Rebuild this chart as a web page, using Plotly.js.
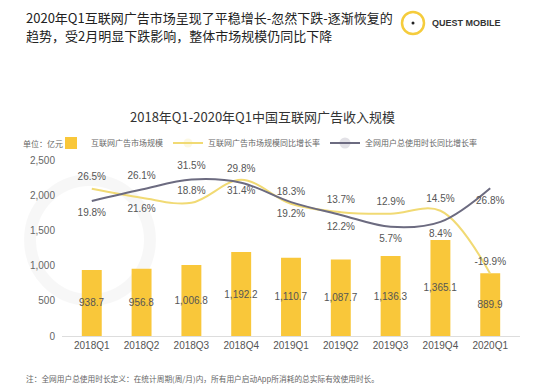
<!DOCTYPE html>
<html><head><meta charset="utf-8">
<script src="https://cdn.plot.ly/plotly-3.0.1.min.js"></script>
<style>html,body{margin:0;padding:0;background:#fff;}#chart{width:552px;height:385px;}</style>
</head><body><div id="chart"></div>
<script>
const quarters = ['2018Q1','2018Q2','2018Q3','2018Q4','2019Q1','2019Q2','2019Q3','2019Q4','2020Q1'];
const adRevenue = [938.7, 956.8, 1006.8, 1192.2, 1110.7, 1087.7, 1136.3, 1365.1, 889.9];
const adGrowth = [26.5, 21.6, 18.8, 31.4, 18.3, 13.7, 12.9, 14.5, -19.9];
const timeGrowth = [19.8, 26.1, 31.5, 29.8, 19.2, 12.2, 5.7, 8.4, 26.8];
const adGrowthPos = ['top center','bottom center','top center','bottom center','top center','top center','top center','top center','top center'];
const timeGrowthPos = ['bottom center','top center','top center','top center','bottom center','bottom center','bottom center','bottom center','bottom center'];

const L = 62, R = 520, T = 160, B = 336;
const px = x => (x - L) / (R - L);
const py = y => (B - y) / (B - T);
const pct = v => (v < 0 ? '-' : '') + Math.abs(v).toFixed(1) + '%';
const numFont = 'Liberation Sans, Arial, sans-serif';

const traces = [
  {type:'bar', name:'互联网广告市场规模', x:quarters, y:adRevenue,
   marker:{color:'#f9c73a'}, texttemplate:'%{y:,.1f}', textposition:'inside',
   insidetextanchor:'middle', constraintext:'none', textangle:0,
   textfont:{size:10, color:'#555', family:numFont}, hoverinfo:'skip'},
  {type:'scatter', mode:'lines+markers+text', name:'互联网广告市场规模同比增长率', x:quarters, y:adGrowth,
   yaxis:'y2', line:{color:'#f1da74', width:2, shape:'spline', smoothing:1},
   marker:{size:9, opacity:0, color:'#f1da74'},
   text:adGrowth.map(pct), textposition:adGrowthPos,
   textfont:{size:10, color:'#555', family:numFont}, cliponaxis:false},
  {type:'scatter', mode:'lines+markers+text', name:'全网用户总使用时长同比增长率', x:quarters, y:timeGrowth,
   yaxis:'y2', line:{color:'#6c6b80', width:2, shape:'spline', smoothing:1},
   marker:{size:11, opacity:0, color:'#6c6b80'},
   text:timeGrowth.map(pct), textposition:timeGrowthPos,
   textfont:{size:10, color:'#555', family:numFont}, cliponaxis:false}
];

const ann = (text, x, y, opts) => Object.assign({text, x:px(x), y:py(y), xref:'paper', yref:'paper', showarrow:false, xanchor:'left', yanchor:'middle'}, opts||{});

const layout = {
  width:552, height:385,
  margin:{l:L, r:552-R, t:T, b:385-B},
  paper_bgcolor:'#fff', plot_bgcolor:'rgba(0,0,0,0)',
  font:{family:'Noto Sans CJK SC, sans-serif', color:'#555'},
  showlegend:true,
  bargap:0.6,
  legend:{orientation:'h', x:px(51), y:py(143), xanchor:'left', yanchor:'middle',
    font:{size:8, color:'#666'}, bgcolor:'rgba(0,0,0,0)', tracegroupgap:0},
  xaxis:{type:'category', showline:true, linecolor:'#dddddd', linewidth:1, ticks:'', showgrid:false,
    tickfont:{size:10, color:'#555', family:numFont}},
  yaxis:{range:[0,2500], dtick:500, tickformat:',', showgrid:false, zeroline:false, showline:false,
    tickfont:{size:10, color:'#666', family:numFont}, ticklabelstandoff:6},
  yaxis2:{overlaying:'y', range:[-53.9, 42.2], visible:false},
  annotations:[
    ann('2020年Q1互联网广告市场呈现了平稳增长-忽然下跌-逐渐恢复的', 24, 17, {font:{size:13, color:'#222'}}),
    ann('趋势，受2月明显下跌影响，整体市场规模仍同比下降', 24, 35, {font:{size:13, color:'#222'}}),
    ann('<b>QUEST MOBILE</b>', 430, 23, {font:{size:9, color:'#333', family:numFont}}),
    ann('2018年Q1-2020年Q1中国互联网广告收入规模', 262, 116, {xanchor:'center', font:{size:13, color:'#333'}}),
    ann('单位：亿元', 21, 143, {font:{size:8, color:'#666'}}),
    ann('注：全网用户总使用时长定义：在统计周期(周/月)内，所有用户启动App所消耗的总实际有效使用时长。', 24, 378, {font:{size:7.7, color:'#666'}})
  ],
  shapes:[
    {type:'circle', xref:'paper', yref:'paper', x0:px(402), x1:px(424), y0:py(34), y1:py(12), line:{color:'#f5cc3c', width:2.5}},
    {type:'circle', xref:'paper', yref:'paper', x0:px(411.5), x1:px(414.5), y0:py(24.5), y1:py(21.5), fillcolor:'#222', line:{width:0}},
    {type:'circle', xref:'paper', yref:'paper', x0:px(30), x1:px(150), y0:py(300), y1:py(180), line:{color:'rgba(0,0,0,0.03)', width:12}, layer:'below'}
  ]
};
Plotly.newPlot('chart', traces, layout, {displayModeBar:false, staticPlot:true});
</script></body></html>
